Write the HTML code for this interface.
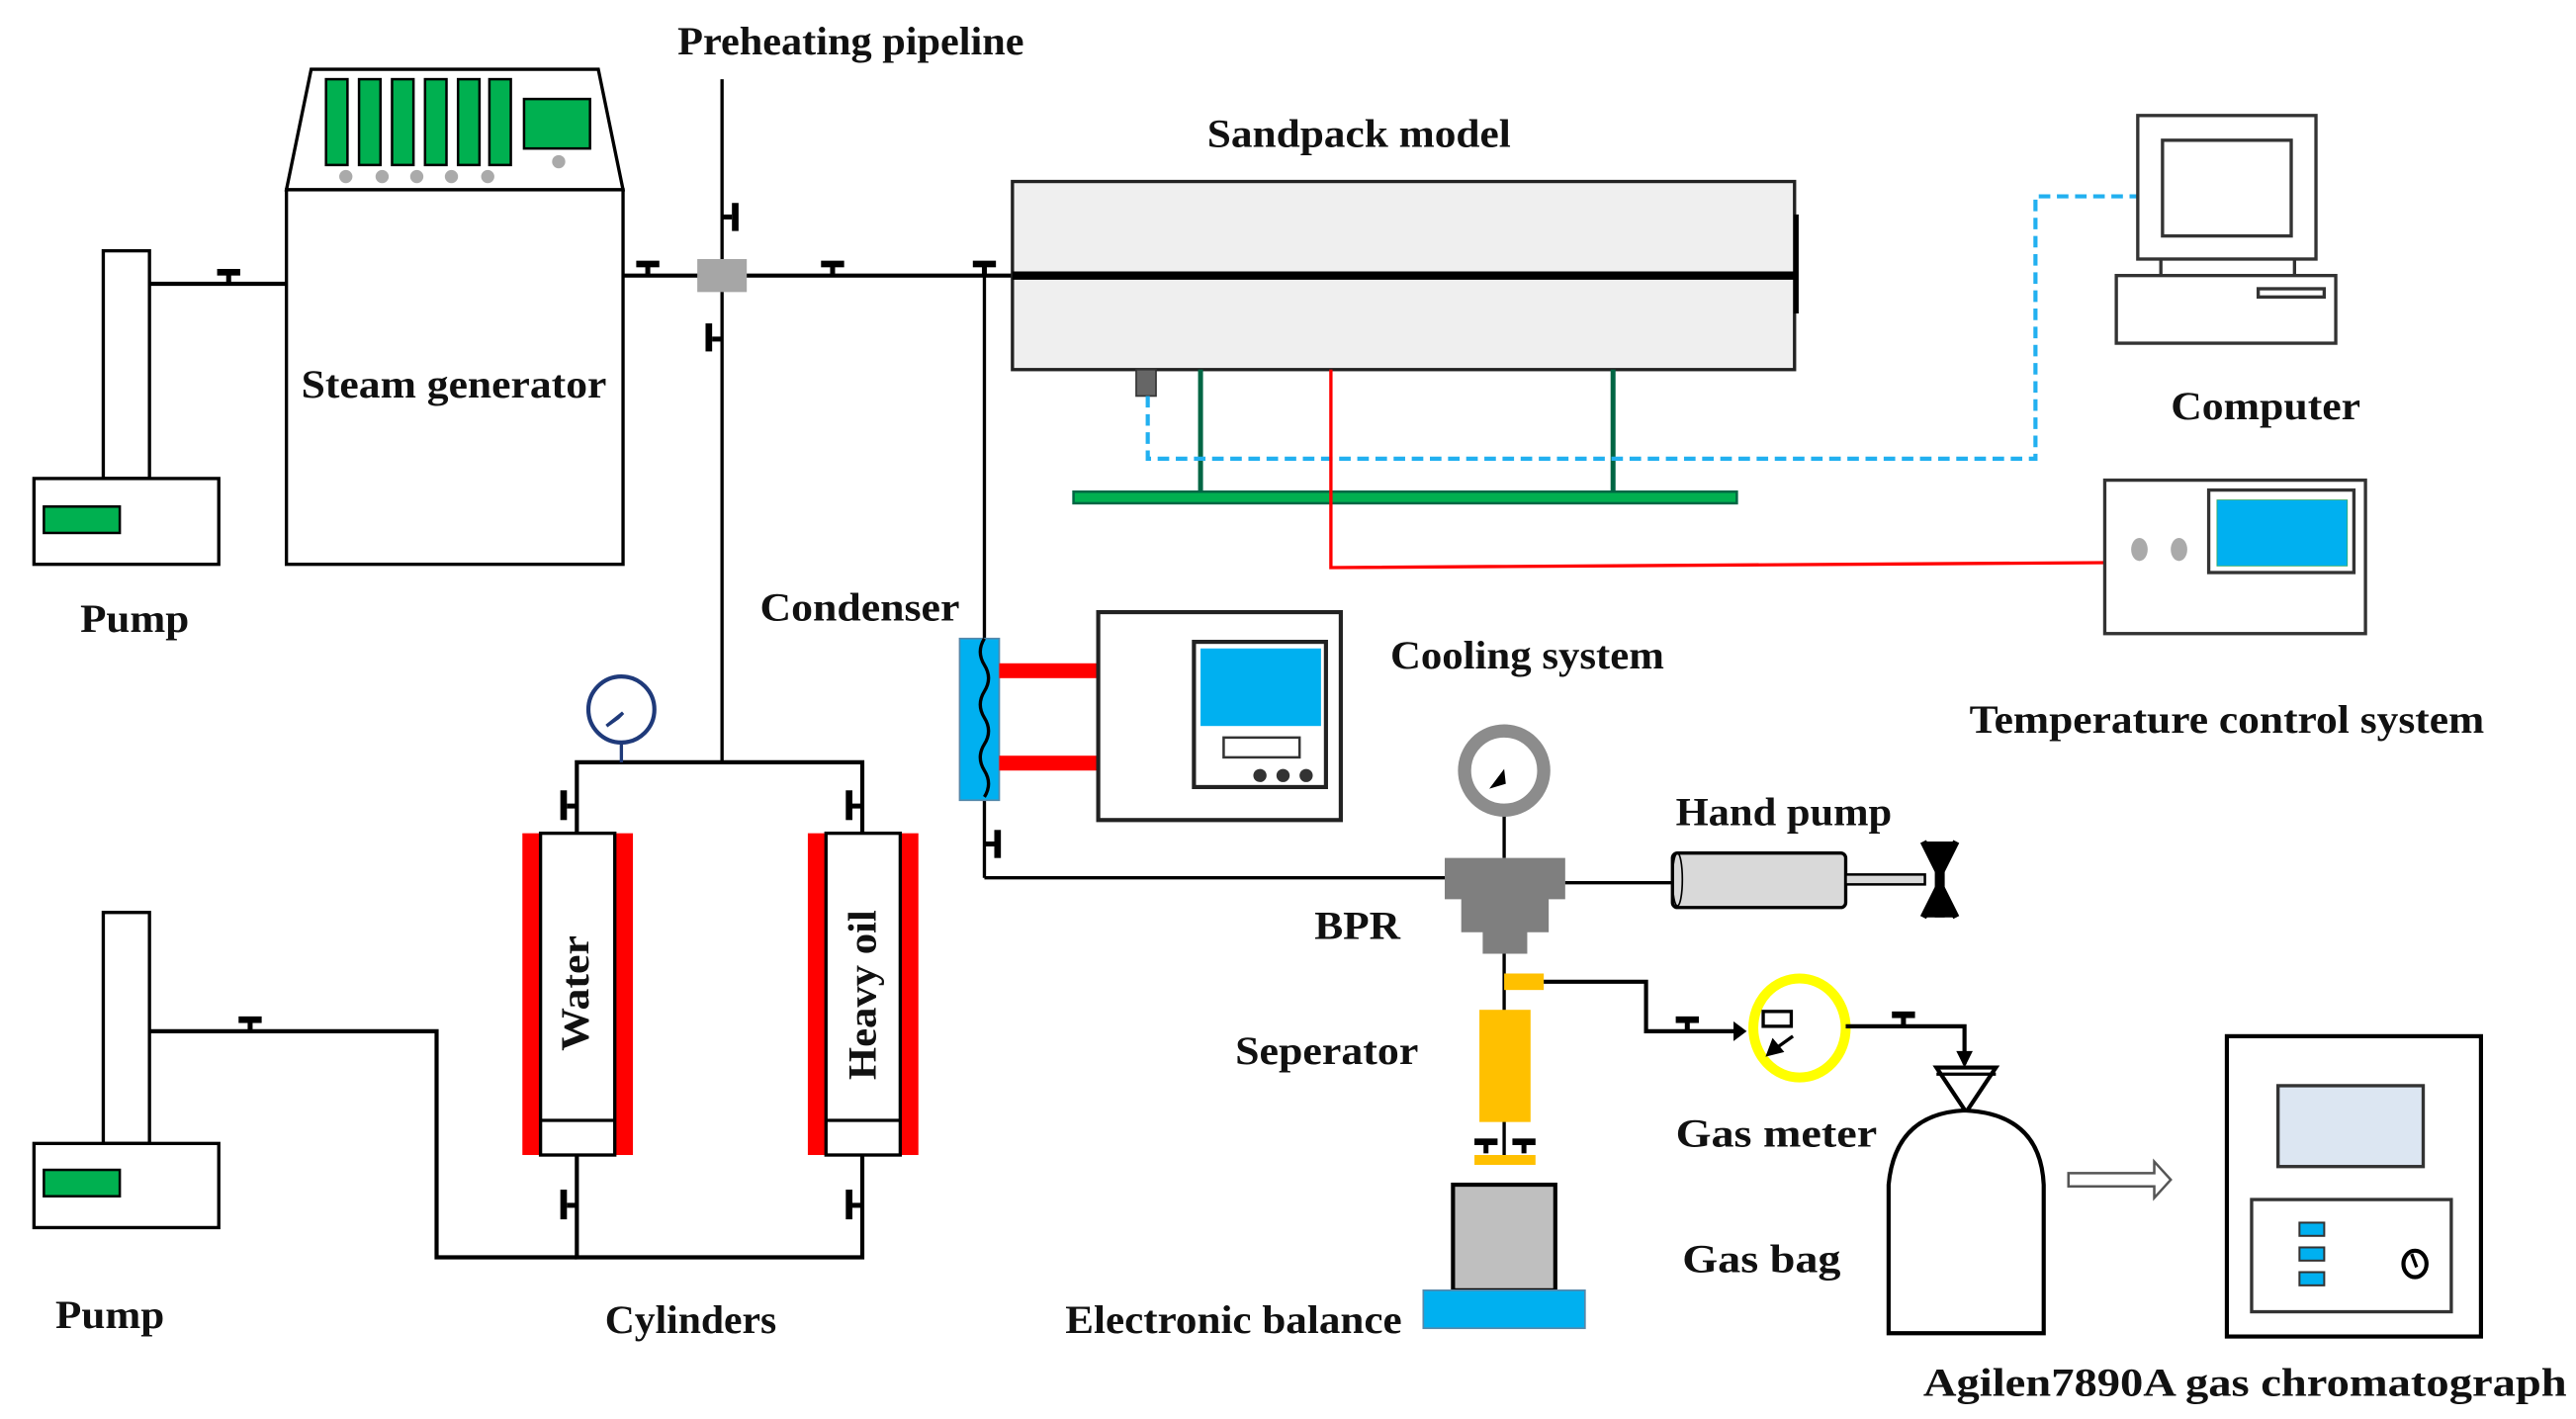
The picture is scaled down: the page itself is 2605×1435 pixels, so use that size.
<!DOCTYPE html>
<html><head><meta charset="utf-8"><style>
html,body{margin:0;padding:0;background:#fff;}
svg{display:block;}
text{font-family:"Liberation Serif",serif;font-weight:bold;font-size:24px;fill:#111;}
</style></head><body>
<svg width="2605" height="1435" viewBox="0 0 1560 860" xmlns="http://www.w3.org/2000/svg">
<defs>
<g id="vT"><rect x="-7" y="-9" width="14" height="4" fill="#000"/><rect x="-1.5" y="-6" width="3" height="6" fill="#000"/></g>
</defs>
<g stroke="#000" stroke-width="2.5" fill="none">
<rect x="62" y="152" width="28" height="138" fill="#fff" stroke-width="2"/>
<rect x="20" y="290" width="112" height="52" fill="#fff" stroke-width="2"/>
<line x1="90" y1="172" x2="173" y2="172"/>
<polygon points="188,42 362,42 377,115 173,115" fill="#fff" stroke-width="2"/>
<rect x="173" y="115" width="204" height="227" fill="#fff" stroke-width="2"/>
<line x1="377" y1="167" x2="613" y2="167"/>
<line x1="437" y1="48" x2="437" y2="462" stroke-width="2"/>
<line x1="596" y1="167" x2="596" y2="532" stroke-width="2"/>
<line x1="596" y1="532" x2="880" y2="532" stroke-width="2"/>
<polyline points="349,505 349,462 522,462 522,505"/>
<polyline points="349,700 349,762 522,762 522,700"/>
<polyline points="90,625 264,625 264,762 349,762"/>
<rect x="62" y="553" width="28" height="140" fill="#fff" stroke-width="2"/>
<rect x="20" y="693" width="112" height="51" fill="#fff" stroke-width="2"/>
</g>
<rect x="26" y="307" width="46" height="16" fill="#00b050" stroke="#000" stroke-width="1.5"/>
<rect x="26" y="709" width="46" height="16" fill="#00b050" stroke="#000" stroke-width="1.5"/>
<g fill="#00b050" stroke="#000" stroke-width="1.5">
<rect x="197" y="48" width="13" height="52"/><rect x="217" y="48" width="13" height="52"/><rect x="237" y="48" width="13" height="52"/><rect x="257" y="48" width="13" height="52"/><rect x="277" y="48" width="13" height="52"/><rect x="296" y="48" width="13" height="52"/>
<rect x="317" y="60" width="40" height="30"/>
</g>
<g fill="#aaa"><circle cx="209" cy="107" r="4"/><circle cx="231" cy="107" r="4"/><circle cx="252" cy="107" r="4"/><circle cx="273" cy="107" r="4"/><circle cx="295" cy="107" r="4"/><circle cx="338" cy="98" r="4"/></g>
<use href="#vT" x="138" y="172"/>
<use href="#vT" x="392" y="167"/>
<use href="#vT" x="504" y="167"/>
<use href="#vT" x="596" y="167"/>
<use href="#vT" x="151" y="625"/>
<use href="#vT" x="1022" y="625"/>
<use href="#vT" x="1153" y="622"/>
<g fill="#000">
<rect x="437" y="130" width="6" height="3"/><rect x="443" y="123" width="4" height="17"/>
<rect x="431" y="204" width="6" height="3"/><rect x="427" y="196" width="4" height="17"/>
<rect x="596" y="510" width="6" height="3"/><rect x="602" y="503" width="4" height="17"/>
<rect x="343" y="487" width="6" height="3"/><rect x="339" y="479" width="4" height="18"/>
<rect x="516" y="487" width="6" height="3"/><rect x="512" y="479" width="4" height="18"/>
<rect x="343" y="729" width="6" height="3"/><rect x="339" y="721" width="4" height="18"/>
<rect x="516" y="729" width="6" height="3"/><rect x="512" y="721" width="4" height="18"/>
</g>
<rect x="422" y="157" width="30" height="20" fill="#a6a6a6"/>
<rect x="613" y="110" width="474" height="114" fill="#efefef" stroke="#222" stroke-width="2"/>
<line x1="613" y1="167" x2="1089" y2="167" stroke="#000" stroke-width="5"/>
<line x1="1088" y1="130" x2="1088" y2="190" stroke="#000" stroke-width="3"/>
<rect x="688" y="224" width="12" height="16" fill="#666" stroke="#333"/>
<g stroke-width="3"><line x1="727" y1="224" x2="727" y2="300" stroke="#064"/><line x1="977" y1="224" x2="977" y2="300" stroke="#064"/></g>
<rect x="650" y="298" width="402" height="7" fill="#00b050" stroke="#064" stroke-width="1.5"/>
<polyline points="695,240 695,278 1233,278 1233,119 1295,119" fill="none" stroke="#22b0f0" stroke-width="2.5" stroke-dasharray="7,4"/>
<polyline points="806,224 806,344 1275,341" fill="none" stroke="#f00" stroke-width="2"/>
<g fill="#fff" stroke="#333" stroke-width="2">
<rect x="1295" y="70" width="108" height="87"/>
<rect x="1310" y="85" width="78" height="58"/>
<line x1="1309" y1="157" x2="1309" y2="167"/><line x1="1390" y1="157" x2="1390" y2="167"/>
<rect x="1282" y="167" width="133" height="41"/>
<rect x="1368" y="175" width="40" height="5"/>
</g>
<rect x="1275" y="291" width="158" height="93" fill="#fff" stroke="#333" stroke-width="2"/>
<rect x="1338" y="297" width="88" height="50" fill="#fff" stroke="#333" stroke-width="2"/>
<rect x="1343" y="303" width="79" height="40" fill="#00b0f0" stroke="#3a6" stroke-width="0.5"/>
<ellipse cx="1296" cy="333" rx="5" ry="7" fill="#aaa"/><ellipse cx="1320" cy="333" rx="5" ry="7" fill="#aaa"/>
<rect x="581" y="387" width="24" height="98" fill="#00b0f0" stroke="#58a" stroke-width="1"/>
<path d="M596,387 q-5,8 0,16 q5,8 0,16 q-5,8 0,16 q5,8 0,16 q-5,8 0,16 q5,8 0,16" fill="none" stroke="#000" stroke-width="2"/>
<rect x="605" y="402" width="60" height="9" fill="#f00"/>
<rect x="605" y="458" width="60" height="9" fill="#f00"/>
<rect x="665" y="371" width="147" height="126" fill="#fff" stroke="#222" stroke-width="2.5"/>
<rect x="723" y="389" width="80" height="88" fill="#fff" stroke="#222" stroke-width="2.5"/>
<rect x="727" y="393" width="73" height="47" fill="#00b0f0"/>
<rect x="741" y="447" width="46" height="12" fill="#fff" stroke="#333" stroke-width="1.5"/>
<g fill="#333"><circle cx="763" cy="470" r="4"/><circle cx="777" cy="470" r="4"/><circle cx="791" cy="470" r="4"/></g>
<circle cx="376" cy="430" r="20" fill="#fff" stroke="#1f3a7a" stroke-width="2.5"/>
<line x1="376" y1="450" x2="376" y2="462" stroke="#1f3a7a" stroke-width="2"/>
<path d="M367,440 l10,-8 l-3,3z" fill="#1f3a7a" stroke="#1f3a7a" stroke-width="2"/>
<rect x="316" y="505" width="11" height="195" fill="#f00"/><rect x="372" y="505" width="11" height="195" fill="#f00"/>
<rect x="327" y="505" width="45" height="195" fill="#fff" stroke="#000" stroke-width="2"/>
<line x1="327" y1="679" x2="372" y2="679" stroke="#000" stroke-width="2"/>
<rect x="489" y="505" width="11" height="195" fill="#f00"/><rect x="545" y="505" width="11" height="195" fill="#f00"/>
<rect x="500" y="505" width="45" height="195" fill="#fff" stroke="#000" stroke-width="2"/>
<line x1="500" y1="679" x2="545" y2="679" stroke="#000" stroke-width="2"/>
<text transform="translate(356,602) rotate(-90)" text-anchor="middle" textLength="70" lengthAdjust="spacingAndGlyphs">Water</text>
<text transform="translate(530,603) rotate(-90)" text-anchor="middle" textLength="103" lengthAdjust="spacingAndGlyphs">Heavy oil</text>
<line x1="911" y1="490" x2="911" y2="520" stroke="#000" stroke-width="2"/>
<circle cx="911" cy="467" r="24" fill="#fff" stroke="#8c8c8c" stroke-width="8"/>
<path d="M902,478 l9,-12 l1,9z" fill="#000"/>
<polygon points="875,520 948,520 948,545 938,545 938,565 925,565 925,578 898,578 898,565 885,565 885,545 875,545" fill="#7f7f7f"/>
<line x1="948" y1="535" x2="1013" y2="535" stroke="#000" stroke-width="2"/>
<rect x="1013" y="517" width="105" height="33" rx="3" fill="#d9d9d9" stroke="#000" stroke-width="2"/>
<ellipse cx="1016" cy="533" rx="3" ry="16" fill="none" stroke="#000" stroke-width="1"/>
<rect x="1118" y="530" width="48" height="6" fill="#d9d9d9" stroke="#000" stroke-width="1.5"/>
<path d="M1165,510 l10,20 l10,-20 M1165,556 l10,-20 l10,20" stroke="#000" stroke-width="4" fill="#000"/>
<rect x="1172" y="512" width="6" height="44" fill="#000"/>
<line x1="911" y1="578" x2="911" y2="700" stroke="#000" stroke-width="2"/>
<rect x="911" y="590" width="24" height="10" fill="#ffc000"/>
<polyline points="935,595 997,595 997,625 1052,625" fill="none" stroke="#000" stroke-width="2.5"/>
<path d="M1050,619 l8,6 l-8,6z" fill="#000"/>
<rect x="896" y="612" width="31" height="68" fill="#ffc000"/>
<use href="#vT" x="900" y="699"/><use href="#vT" x="923" y="699"/>
<rect x="893" y="700" width="37" height="6" fill="#ffc000"/>
<rect x="880" y="718" width="62" height="64" fill="#bfbfbf" stroke="#000" stroke-width="2.5"/>
<rect x="862" y="782" width="98" height="23" fill="#00b0f0" stroke="#58a" stroke-width="1"/>
<ellipse cx="1090" cy="623" rx="28" ry="30" fill="#fff" stroke="#ff0" stroke-width="6"/>
<rect x="1068" y="613" width="17" height="9" fill="#fff" stroke="#000" stroke-width="2"/>
<path d="M1086,628 l-14,10 M1071,639 l3,-8 l5,6z" stroke="#000" stroke-width="2" fill="#000"/>
<polyline points="1118,622 1190,622 1190,645" fill="none" stroke="#000" stroke-width="2.5"/>
<path d="M1185,637 l5,10 l5,-10z" fill="#000"/>
<polygon points="1173,647 1209,647 1191,674" fill="#fff" stroke="#000" stroke-width="2.5"/>
<line x1="1173" y1="651" x2="1209" y2="651" stroke="#000" stroke-width="2"/>
<path d="M1144,808 L1144,718 Q1148,675 1190,673 Q1236,675 1238,718 L1238,808 Z" fill="#fff" stroke="#000" stroke-width="2.5"/>
<path d="M1253,711 L1305,711 L1305,704 L1315,715 L1305,726 L1305,719 L1253,719 Z" fill="#fff" stroke="#555" stroke-width="1.5"/>
<rect x="1349" y="628" width="154" height="182" fill="#fff" stroke="#000" stroke-width="2.5"/>
<rect x="1380" y="658" width="88" height="49" fill="#dce6f2" stroke="#333" stroke-width="2"/>
<rect x="1364" y="727" width="121" height="68" fill="#fff" stroke="#333" stroke-width="2"/>
<g fill="#00b0f0" stroke="#333" stroke-width="1.2"><rect x="1393" y="741" width="15" height="8"/><rect x="1393" y="756" width="15" height="8"/><rect x="1393" y="771" width="15" height="8"/></g>
<ellipse cx="1463" cy="766" rx="7" ry="8" fill="#fff" stroke="#000" stroke-width="2.5"/>
<line x1="1461" y1="760" x2="1464" y2="768" stroke="#000" stroke-width="2"/>
<g lengthAdjust="spacingAndGlyphs">
<text x="410" y="33" textLength="210" lengthAdjust="spacingAndGlyphs">Preheating pipeline</text>
<text x="731" y="89" textLength="184" lengthAdjust="spacingAndGlyphs">Sandpack model</text>
<text x="182" y="241" textLength="185" lengthAdjust="spacingAndGlyphs">Steam generator</text>
<text x="48" y="383" textLength="66" lengthAdjust="spacingAndGlyphs">Pump</text>
<text x="1315" y="254" textLength="115" lengthAdjust="spacingAndGlyphs">Computer</text>
<text x="460" y="376" textLength="121" lengthAdjust="spacingAndGlyphs">Condenser</text>
<text x="842" y="405" textLength="166" lengthAdjust="spacingAndGlyphs">Cooling system</text>
<text x="1193" y="444" textLength="312" lengthAdjust="spacingAndGlyphs">Temperature control system</text>
<text x="1015" y="500" textLength="131" lengthAdjust="spacingAndGlyphs">Hand pump</text>
<text x="796" y="569" textLength="52" lengthAdjust="spacingAndGlyphs">BPR</text>
<text x="748" y="645" textLength="111" lengthAdjust="spacingAndGlyphs">Seperator</text>
<text x="1015" y="695" textLength="122" lengthAdjust="spacingAndGlyphs">Gas meter</text>
<text x="1019" y="771" textLength="96" lengthAdjust="spacingAndGlyphs">Gas bag</text>
<text x="33" y="805" textLength="66" lengthAdjust="spacingAndGlyphs">Pump</text>
<text x="366" y="808" textLength="104" lengthAdjust="spacingAndGlyphs">Cylinders</text>
<text x="645" y="808" textLength="204" lengthAdjust="spacingAndGlyphs">Electronic balance</text>
<text x="1165" y="846" textLength="390" lengthAdjust="spacingAndGlyphs">Agilen7890A gas chromatograph</text>
</g>
</svg>
</body></html>
